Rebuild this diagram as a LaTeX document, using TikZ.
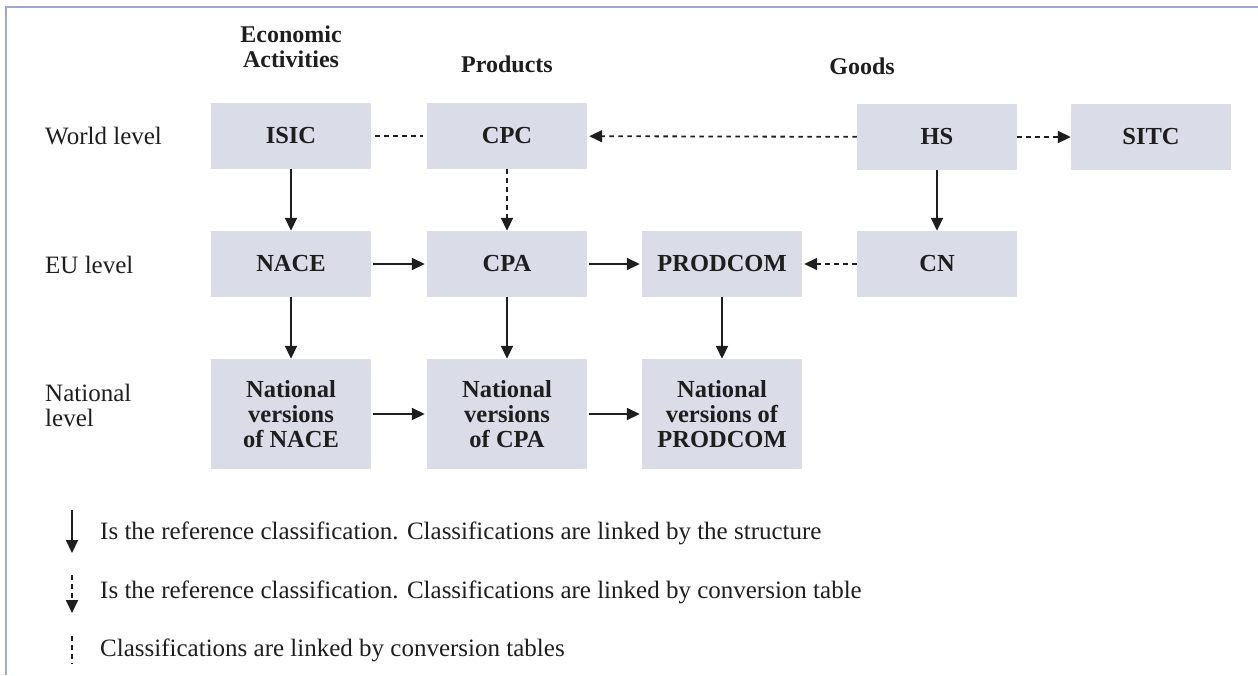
\documentclass[tikz,border=0pt]{standalone}
\usepackage{fontspec}
\setmainfont{Liberation Serif}
\usetikzlibrary{arrows.meta}
\definecolor{boxfill}{RGB}{218,220,232}
\definecolor{frame}{RGB}{160,165,210}
\definecolor{ink}{RGB}{30,30,30}
\tikzset{
  cbox/.style={fill=boxfill, minimum width=160pt, minimum height=66pt, inner sep=0pt,
    font=\fontsize{24.5}{25}\selectfont\bfseries, align=center, text=ink},
  tallbox/.style={cbox, minimum height=110pt},
  lbl/.style={font=\fontsize{25}{25}\selectfont, text=ink, anchor=west, inner sep=0pt, align=left},
  hdr/.style={font=\fontsize{24}{25}\selectfont\bfseries, text=ink, align=center, inner sep=0pt},
  solidarr/.style={draw=ink, line width=1.8pt, -{Triangle[length=13pt,width=12pt]}},
  dotarr/.style={draw=ink, line width=1.8pt, dash pattern=on 4.5pt off 4.5pt, -{Triangle[length=13pt,width=12pt]}},
  dotline/.style={draw=ink, line width=1.8pt, dash pattern=on 4.5pt off 4.5pt},
}
\begin{document}
\begin{tikzpicture}[x=1pt,y=-1pt]
\useasboundingbox (0,0) rectangle (1258,675);
% frame
\draw[frame, line width=2pt] (6,675) -- (6,6.5) -- (1258,6.5);
% headers
\node[hdr] (hEA) at (291,47) {Economic\\Activities};
\node[hdr] (hP) at (507,64) {Products};
\node[hdr] (hG) at (862,66) {Goods};
% row labels
\node[lbl] (rW) at (45,136) {World level};
\node[lbl] (rE) at (45,265) {EU level};
\node[lbl] (rN) at (45,405) {National\\level};
% boxes
\node[cbox] (ISIC) at (291,136) {ISIC};
\node[cbox] (CPC) at (507,136) {CPC};
\node[cbox] (HS) at (937,137) {HS};
\node[cbox] (SITC) at (1151,137) {SITC};
\node[cbox] (NACE) at (291,264) {NACE};
\node[cbox] (CPA) at (507,264) {CPA};
\node[cbox] (PRODCOM) at (722,264) {PRODCOM};
\node[cbox] (CN) at (937,264) {CN};
\node[tallbox] (NNACE) at (291,414) {National\\versions\\of NACE};
\node[tallbox] (NCPA) at (507,414) {National\\versions\\of CPA};
\node[tallbox] (NPROD) at (722,414) {National\\versions of\\PRODCOM};
% connectors
\draw[dotline, shorten <=4pt, shorten >=4pt] (ISIC) -- (CPC);
\draw[dotarr, shorten >=2pt] (HS) -- (CPC);
\draw[dotarr] (HS) -- (SITC);
\draw[solidarr] (ISIC) -- (NACE);
\draw[dotarr] (CPC) -- (CPA);
\draw[solidarr] (HS) -- (CN);
\draw[solidarr, shorten <=2pt, shorten >=2pt] (NACE) -- (CPA);
\draw[solidarr, shorten <=2pt, shorten >=2pt] (CPA) -- (PRODCOM);
\draw[dotarr, shorten >=2pt] (CN) -- (PRODCOM);
\draw[solidarr] (NACE) -- (NNACE);
\draw[solidarr] (CPA) -- (NCPA);
\draw[solidarr] (PRODCOM) -- (NPROD);
\draw[solidarr, shorten <=2pt, shorten >=2pt] (NNACE) -- (NCPA);
\draw[solidarr, shorten <=2pt, shorten >=2pt] (NCPA) -- (NPROD);
% legend
\coordinate (l1a) at (72,510); \coordinate (l1b) at (72,553);
\coordinate (l2a) at (72,575); \coordinate (l2b) at (72,613);
\coordinate (l3a) at (72,636); \coordinate (l3b) at (72,664);
\draw[solidarr] (l1a) -- (l1b);
\draw[dotarr] (l2a) -- (l2b);
\draw[dotline] (l3a) -- (l3b);
\node[lbl] (t1) at (100,533) {Is the reference classification. Classifications are linked by the structure};
\node[lbl] (t2) at (100,592) {Is the reference classification. Classifications are linked by conversion table};
\node[lbl] (t3) at (100,650) {Classifications are linked by conversion tables};
\end{tikzpicture}
\end{document}
